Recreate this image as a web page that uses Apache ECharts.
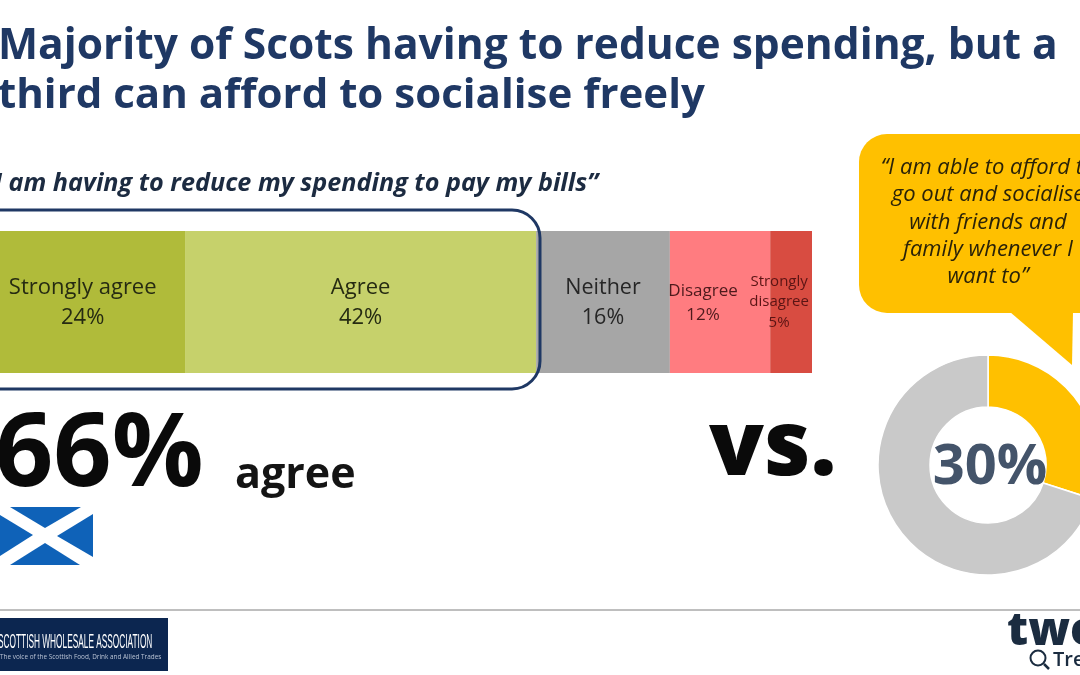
<!DOCTYPE html>
<html><head><meta charset="utf-8">
<script src="https://cdn.jsdelivr.net/npm/echarts@6/dist/echarts.min.js"></script>
<style>html,body{margin:0;padding:0;background:#fff;overflow:hidden}#c{width:1080px;height:675px}</style>
</head><body><div id="c"></div>
<script>
const categories = ['Strongly agree','Agree','Neither','Disagree','Strongly\ndisagree'];
const values = [24,42,16,12,5];
const barColors = ['#B0BB3A','#C6D16B','#A6A6A6','#FF7C80','#D84C41'];
const labelColors = ['#262b12','#262b12','#262626','#4e1a1c','#5a1414'];
const labelSizes = [22,22,21.5,17,15];
const labelLineHeights = [30,30,30,24,20.5];
const labelOffsets = [[-2,1],[0,1],[0,1],[-17,1],[-12,0]];
const donutNames = ['Able to afford','Not able'];
const donutValues = [30,70];
const donutColors = ['#FFC000','#C9C9C9'];
const FONT = '"Open Sans", "Noto Sans", sans-serif';
const NAVY = '#1F3864';

const txt = (x,y,text,size,weight,fill,extra={}) => Object.assign({type:'text',x,y,z:20,style:Object.assign({text,fontSize:size,fontWeight:weight,fontFamily:FONT,fill,verticalAlign:'middle',align:'left'},extra.style||{})},extra.el||{});

const chart = echarts.init(document.getElementById('c'),null,{renderer:'canvas'});
chart.setOption({
  animation:false,
  backgroundColor:'#fff',
  grid:{left:-15.6,top:231,width:827.6,height:142,containLabel:false,outerBoundsMode:'none'},
  xAxis:{type:'value',min:0,max:99,show:false},
  yAxis:{type:'category',data:['Reduce spending'],show:false},
  series:[
    ...categories.map((name,i)=>({
      type:'bar',name,stack:'all',barWidth:'100%',z:2,
      data:[values[i]],
      itemStyle:{color:barColors[i]},
      label:{show:true,position:'inside',offset:labelOffsets[i],formatter:()=>name+'\n'+values[i]+'%',
        fontFamily:FONT,fontSize:labelSizes[i],lineHeight:labelLineHeights[i],color:labelColors[i],align:'center'}
    })),
    {type:'pie',center:[988,465],radius:[58,110],startAngle:90,clockwise:true,z:3,
     silent:true,
     data:donutNames.map((name,i)=>({name,value:donutValues[i],itemStyle:{color:donutColors[i],borderColor:'#fff',borderWidth:1.5},
        label:i==0?{show:true,position:'center',offset:[2,3],formatter:donutValues[0]+'%',fontFamily:FONT,fontWeight:700,fontSize:56,color:'#44546A'}:{show:false}})),
     labelLine:{show:false}}
  ],
  graphic:[
    txt(-2,47,'Majority of Scots having to reduce spending, but a',42.5,700,NAVY),
    txt(-2,96,'third can afford to socialise freely',42,700,NAVY),
    txt(-17,184,'“I am having to reduce my spending to pay my bills”',25.2,700,'#1C2B41',{style:{fontStyle:'italic'}}),
    {type:'rect',z:10,shape:{x:-30,y:210,width:570,height:179,r:28},style:{fill:'none',stroke:NAVY,lineWidth:3}},
    txt(-5,457,'66%',102,700,'#0a0a0a'),
    txt(235,476,'agree',43,700,'#141414'),
    txt(709,449,'vs.',90,800,'#0a0a0a'),
    // flag: four blue triangles on the white saltire
    {type:'polygon',z:6,shape:{points:[[10,507],[81,507],[45,528]]},style:{fill:'#0F62B8'}},
    {type:'polygon',z:6,shape:{points:[[10,565],[80,565],[45,543]]},style:{fill:'#0F62B8'}},
    {type:'polygon',z:6,shape:{points:[[0,515],[33,535],[0,556]]},style:{fill:'#0F62B8'}},
    {type:'polygon',z:6,shape:{points:[[93,514],[57,536],[93,557]]},style:{fill:'#0F62B8'}},
    // bubble
    {type:'rect',z:5,shape:{x:859,y:134,width:300,height:179,r:28},style:{fill:'#FFC000'}},
    {type:'polygon',z:5,shape:{points:[[1010,312],[1072,365],[1073,312]]},style:{fill:'#FFC000'}},
    ...['“I am able to afford to','go out and socialise','with friends and','family whenever I','want to”'].map((t,i)=>
      txt(988,168+i*27.2,t,22,400,'#2a2208',{style:{align:'center',fontStyle:'italic'}})),
    // footer
    {type:'line',z:5,shape:{x1:0,y1:610,x2:1080,y2:610},style:{stroke:'#7F7F7F',lineWidth:1}},
    {type:'rect',z:5,shape:{x:0,y:618,width:168,height:53},style:{fill:'#0C2650'}},
    txt(-2,642,'SCOTTISH WHOLESALE ASSOCIATION',20,400,'#fff',{style:{fontFamily:'"Liberation Sans",sans-serif'},el:{scaleX:0.415}}),
    txt(0,657,'The voice of the Scottish Food, Drink and Allied Trades',6.4,400,'#B9C3D4'),
    txt(1007,632,'twe',46,800,'#1B2C40'),
    {type:'circle',z:6,shape:{cx:1038,cy:658,r:7.5},style:{fill:'none',stroke:'#1B2C40',lineWidth:2}},
    {type:'line',z:6,shape:{x1:1044,y1:664,x2:1049,y2:669},style:{stroke:'#1B2C40',lineWidth:2.5}},
    txt(1053,660,'Tre',20,600,'#1B2C40')
  ]
});
</script></body></html>
